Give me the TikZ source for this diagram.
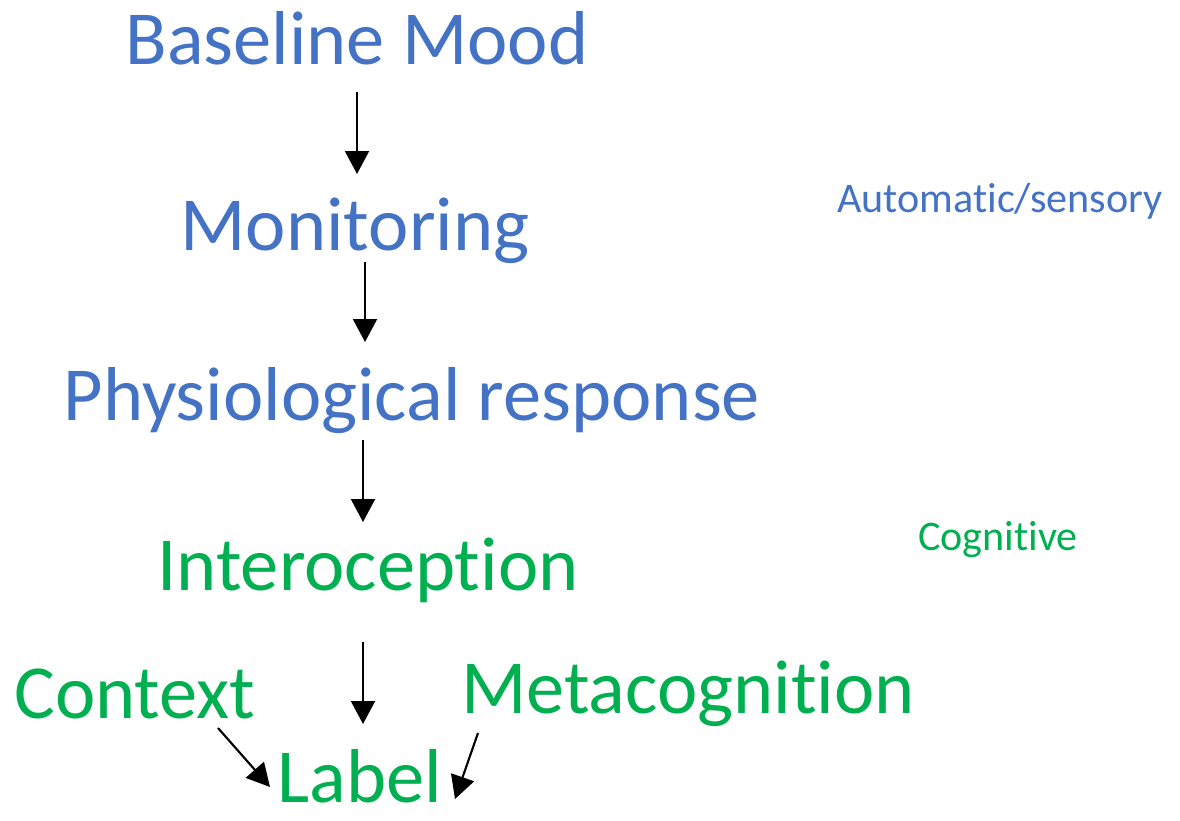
\documentclass[tikz,border=0pt]{standalone}
\usepackage{fontspec}
\setmainfont[Ligatures=NoCommon]{Carlito}
\usetikzlibrary{arrows.meta}
\definecolor{autoblue}{RGB}{68,114,196}
\definecolor{cogngreen}{RGB}{0,176,80}

\begin{document}
\begin{tikzpicture}[
  x=0.02cm, y=-0.02cm,
  big/.style={anchor=base, inner sep=0pt, font=\fontsize{43.5}{48}\selectfont},
  small/.style={anchor=base, inner sep=0pt, font=\fontsize{24}{28}\selectfont},
  arr/.style={-{Triangle[length=4.6mm,width=4.8mm]}, line width=1.2pt, color=black},
]
\useasboundingbox (0,0) rectangle (1180,821);

\node[big, text=autoblue] (mood) at (357,65) {Baseline Mood};
\node[big, text=autoblue] (mon) at (355,250) {Monitoring};
\node[big, text=autoblue] (phys) at (412,420) {Physiological response};
\node[big, text=cogngreen] (intero) at (368,590) {Interoception};
\node[big, text=cogngreen] (ctx) at (135,718) {Context};
\node[big, text=cogngreen] (meta) at (688,713) {Metacognition};
\node[big, text=cogngreen] (lbl) at (360,802) {Label};

\node[small, text=autoblue] (auto) at (1000,212) {Automatic/sensory};
\node[small, text=cogngreen] (cogn) at (998,550) {Cognitive};

\draw[arr] ([shift={(0,27)}]mood.base) -- ([shift={(2,-76)}]mon.base);
\draw[arr] ([shift={(10,12)}]mon.base) -- ([shift={(-47,-78)}]phys.base);
\draw[arr] ([shift={(-49,20)}]phys.base) -- ([shift={(-5,-68)}]intero.base);
\draw[arr] ([shift={(-5,52)}]intero.base) -- ([shift={(3,-78)}]lbl.base);
\draw[arr] ([shift={(83,10)}]ctx.base) -- ([shift={(-90,-15)}]lbl.base);
\draw[arr] ([shift={(-210,20)}]meta.base) -- ([shift={(95,-3)}]lbl.base);
\end{tikzpicture}
\end{document}
